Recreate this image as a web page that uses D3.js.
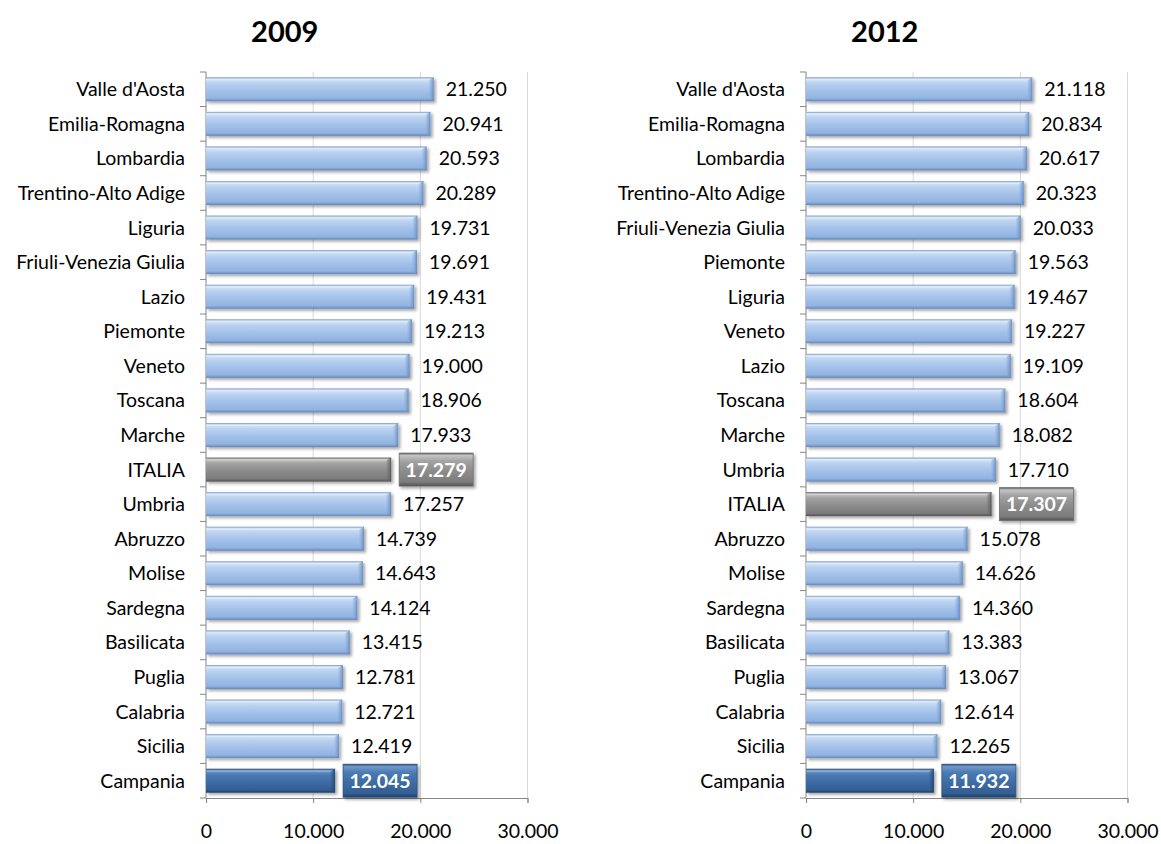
<!DOCTYPE html>
<html>
<head>
<meta charset="utf-8">
<script src="https://cdn.jsdelivr.net/npm/d3@7"></script>
<style>
  html, body { margin: 0; padding: 0; background: #fff; }
  svg { display: block; }
  text { font-family: Lato, "Open Sans", sans-serif; fill: #000; }
</style>
</head>
<body>
<svg id="chart" width="1161" height="844"></svg>
<script>
// Reddito pro capite per regione (euro)
const regions2009 = ["Valle d'Aosta", "Emilia-Romagna", "Lombardia", "Trentino-Alto Adige", "Liguria",
  "Friuli-Venezia Giulia", "Lazio", "Piemonte", "Veneto", "Toscana", "Marche", "ITALIA", "Umbria",
  "Abruzzo", "Molise", "Sardegna", "Basilicata", "Puglia", "Calabria", "Sicilia", "Campania"];
const values2009 = [21250, 20941, 20593, 20289, 19731, 19691, 19431, 19213, 19000, 18906, 17933, 17279,
  17257, 14739, 14643, 14124, 13415, 12781, 12721, 12419, 12045];

const regions2012 = ["Valle d'Aosta", "Emilia-Romagna", "Lombardia", "Trentino-Alto Adige",
  "Friuli-Venezia Giulia", "Piemonte", "Liguria", "Veneto", "Lazio", "Toscana", "Marche", "Umbria",
  "ITALIA", "Abruzzo", "Molise", "Sardegna", "Basilicata", "Puglia", "Calabria", "Sicilia", "Campania"];
const values2012 = [21118, 20834, 20617, 20323, 20033, 19563, 19467, 19227, 19109, 18604, 18082, 17710,
  17307, 15078, 14626, 14360, 13383, 13067, 12614, 12265, 11932];

const xTicks = [0, 10000, 20000, 30000];
const panelTitles = ["2009", "2012"];

const it = d3.formatLocale({ decimal: ",", thousands: ".", grouping: [3], currency: ["€", ""] });
const fmt = it.format(",d");

const svg = d3.select("#chart");
const defs = svg.append("defs");
const fs = 19.5;

// bevelled bar fills
const palettes = {
  normal: ["#7598c9", "#d6e4f6", "#bad2f0", "#a3c1e9", "#91b3e0", "#5f86bc"],
  italia: ["#5f5f5f", "#c4c4c4", "#a2a2a2", "#8c8c8c", "#7c7c7c", "#505050"],
  campania: ["#24476f", "#7399c8", "#4b7bb4", "#3d6ca4", "#355f93", "#1f3f66"]
};
Object.entries(palettes).forEach(([k, c]) => {
  const g = defs.append("linearGradient").attr("id", "g-" + k)
    .attr("x1", 0).attr("y1", 0).attr("x2", 0).attr("y2", 1);
  [[0, c[0]], [0.07, c[1]], [0.25, c[2]], [0.55, c[3]], [0.88, c[4]], [1, c[5]]]
    .forEach(([o, col]) => g.append("stop").attr("offset", o).attr("stop-color", col));
  const e = defs.append("linearGradient").attr("id", "e-" + k)
    .attr("x1", 0).attr("y1", 0).attr("x2", 1).attr("y2", 0);
  e.append("stop").attr("offset", 0).attr("stop-color", c[4]).attr("stop-opacity", 0.2);
  e.append("stop").attr("offset", 1).attr("stop-color", c[5]).attr("stop-opacity", 0.9);
});
const sh = defs.append("filter").attr("id", "shadow")
  .attr("x", "-10%").attr("y", "-30%").attr("width", "130%").attr("height", "180%");
sh.append("feDropShadow").attr("dx", 2).attr("dy", 2).attr("stdDeviation", 1.6)
  .attr("flood-color", "#000").attr("flood-opacity", 0.35);

const panels = [
  { title: panelTitles[0], cats: regions2009, vals: values2009, x0: 206, x1: 527.5 },
  { title: panelTitles[1], cats: regions2012, vals: values2012, x0: 806, x1: 1127.5 }
];

const plotTop = 72, plotBottom = 798;

panels.forEach(p => {
  const x = d3.scaleLinear().domain([0, 30000]).range([p.x0, p.x1]);
  const y = d3.scaleBand().domain(p.cats).range([plotTop, plotBottom]).paddingInner(0.306).paddingOuter(0.153);
  const g = svg.append("g");

  // title
  g.append("text").attr("x", (p.x0 + p.x1) / 2 - 82).attr("y", 42)
    .attr("text-anchor", "middle").attr("font-weight", "bold").attr("font-size", 29)
    .text(p.title);

  // vertical gridlines
  g.selectAll(".grid").data(xTicks.slice(1)).join("line")
    .attr("x1", d => x(d)).attr("x2", d => x(d)).attr("y1", plotTop).attr("y2", plotBottom)
    .attr("stroke", "#d9d9d9").attr("stroke-width", 1);

  // value axis
  const xAxis = d3.axisBottom(x).tickValues(xTicks).tickFormat(fmt).tickSize(5).tickPadding(21);
  const ax = g.append("g").attr("transform", `translate(0,${plotBottom})`).call(xAxis);
  ax.select(".domain").attr("stroke", "#868686");
  ax.selectAll(".tick line").attr("stroke", "#868686");
  ax.selectAll(".tick text").attr("font-size", fs).attr("fill", "#000")
    .attr("font-family", "Lato, sans-serif");

  // category axis with ticks between categories
  const bounds = d3.range(p.cats.length + 1).map(i => plotTop + i * (plotBottom - plotTop) / p.cats.length);
  g.append("line").attr("x1", p.x0).attr("x2", p.x0).attr("y1", plotTop).attr("y2", plotBottom)
    .attr("stroke", "#868686");
  g.selectAll(".ctick").data(bounds).join("line")
    .attr("x1", p.x0 - 6).attr("x2", p.x0).attr("y1", d => d).attr("y2", d => d)
    .attr("stroke", "#868686");
  g.selectAll(".clabel").data(p.cats).join("text")
    .attr("x", p.x0 - 21).attr("y", d => y(d) + y.bandwidth() / 2)
    .attr("dy", "0.36em").attr("text-anchor", "end").attr("font-size", fs)
    .text(d => d);

  const kind = d => d === "ITALIA" ? "italia" : (d === "Campania" ? "campania" : "normal");
  const rows = p.cats.map((c, i) => ({ cat: c, val: p.vals[i], kind: kind(c) }));

  // bars
  const bars = g.selectAll(".bar").data(rows).join("g").attr("filter", "url(#shadow)");
  bars.append("rect")
    .attr("x", x(0)).attr("y", d => y(d.cat))
    .attr("width", d => x(d.val) - x(0)).attr("height", y.bandwidth())
    .attr("fill", d => `url(#g-${d.kind})`);
  // bevelled right end
  bars.append("path")
    .attr("d", d => {
      const xe = x(d.val), yt = y(d.cat), h = y.bandwidth();
      return `M${xe - 5},${yt + 3}L${xe},${yt}L${xe},${yt + h}L${xe - 5},${yt + h - 3}Z`;
    })
    .attr("fill", d => `url(#e-${d.kind})`);
  // top highlight line
  bars.append("line")
    .attr("x1", x(0) + 1).attr("x2", d => x(d.val) - 4)
    .attr("y1", d => y(d.cat) + 2.5).attr("y2", d => y(d.cat) + 2.5)
    .attr("stroke", "#fff").attr("stroke-opacity", 0.35).attr("stroke-width", 1);

  // value labels
  const plain = rows.filter(d => d.kind === "normal");
  g.selectAll(".vlabel").data(plain).join("text")
    .attr("x", d => x(d.val) + 12).attr("y", d => y(d.cat) + y.bandwidth() / 2)
    .attr("dy", "0.36em").attr("font-size", fs)
    .text(d => fmt(d.val));

  // boxed labels for ITALIA and Campania
  const boxed = rows.filter(d => d.kind !== "normal");
  const bw = 74, bh = 33;
  const bg = g.selectAll(".blabel").data(boxed).join("g")
    .attr("transform", d => `translate(${x(d.val) + 8},${y(d.cat) + y.bandwidth() / 2 - bh / 2})`);
  bg.append("rect").attr("width", bw).attr("height", bh)
    .attr("fill", d => `url(#g-${d.kind})`).attr("filter", "url(#shadow)")
    .attr("stroke", d => d.kind === "italia" ? "#6e6e6e" : "#2c5282").attr("stroke-width", 0.8);
  bg.append("text").attr("x", bw / 2).attr("y", bh / 2).attr("dy", "0.36em")
    .attr("text-anchor", "middle").attr("font-weight", "bold").attr("font-size", fs)
    .style("fill", "#fff").text(d => fmt(d.val));
});
</script>
</body>
</html>
